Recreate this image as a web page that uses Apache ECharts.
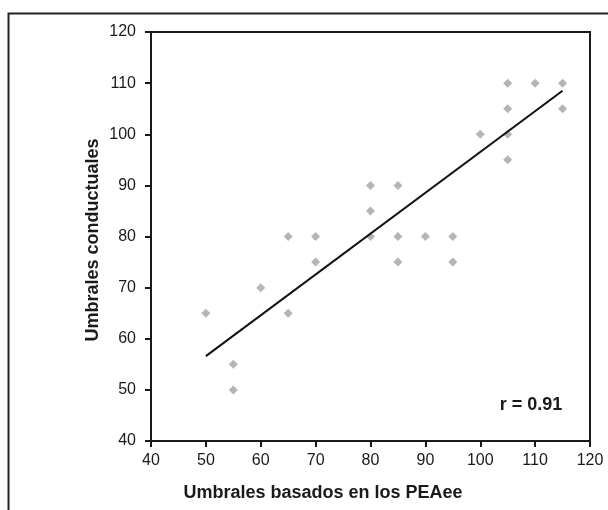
<!DOCTYPE html>
<html>
<head>
<meta charset="utf-8">
<script src="https://cdn.jsdelivr.net/npm/echarts@6/dist/echarts.min.js"></script>
<style>
html,body{margin:0;padding:0;background:#fff;}
#chart{width:608px;height:510px;}
</style>
</head>
<body>
<div id="chart"></div>
<script>
// Data
const peaX = [50, 55, 55, 60, 65, 65, 70, 70, 80, 80, 80, 85, 85, 85, 90, 95, 95, 100, 105, 105, 105, 105, 110, 115, 115];
const condY = [65, 55, 50, 70, 80, 65, 80, 75, 90, 85, 80, 90, 80, 75, 80, 80, 75, 100, 110, 105, 100, 95, 110, 110, 105];
const trendX = [50, 115];
const trendY = [56.6, 108.5];
const axisTicks = [40, 50, 60, 70, 80, 90, 100, 110, 120];
const xTitle = 'Umbrales basados en los PEAee';
const yTitle = 'Umbrales conductuales';
const rLabel = 'r = 0.91';

const points = peaX.map((x, i) => [x, condY[i]]);
const trend = trendX.map((x, i) => [x, trendY[i]]);

const chart = echarts.init(document.getElementById('chart'), null, {renderer: 'canvas'});
const font = 'Liberation Sans, Arial, sans-serif';
const axisCommon = {
  type: 'value',
  min: axisTicks[0],
  max: axisTicks[axisTicks.length - 1],
  interval: 10,
  splitLine: {show: false},
  axisLine: {show: true, lineStyle: {color: '#1a1a1a', width: 2}},
  axisTick: {show: true, inside: false, length: 6, lineStyle: {color: '#1a1a1a', width: 2}}
};
chart.setOption({
  animation: false,
  backgroundColor: '#ffffff',
  grid: {left: 151, right: 18, top: 32, bottom: 69, show: true, borderColor: '#1a1a1a', borderWidth: 2, backgroundColor: 'transparent'},
  xAxis: Object.assign({}, axisCommon, {
    axisLabel: {color: '#1a1a1a', fontSize: 16, fontFamily: font, margin: 12}
  }),
  yAxis: Object.assign({}, axisCommon, {
    axisLabel: {color: '#1a1a1a', fontSize: 16, fontFamily: font, margin: 15}
  }),
  graphic: [
    {type: 'rect', left: 6, top: 11, shape: {width: 700, height: 600}, style: {fill: 'none', stroke: '#222', lineWidth: 2}, z: 100},
    {type: 'text', x: 323, y: 493, style: {text: xTitle, fill: '#1a1a1a', font: 'bold 18px ' + font, textAlign: 'center', textVerticalAlign: 'middle'}},
    {type: 'text', x: 93, y: 240, rotation: Math.PI / 2, style: {text: yTitle, fill: '#1a1a1a', font: 'bold 18px ' + font, textAlign: 'center', textVerticalAlign: 'middle'}},
    {type: 'text', x: 531, y: 405, style: {text: rLabel, fill: '#1a1a1a', font: 'bold 18px ' + font, textAlign: 'center', textVerticalAlign: 'middle'}}
  ],
  series: [
    {type: 'scatter', data: points, symbol: 'diamond', symbolSize: 9, itemStyle: {color: '#a2a2a2'}, z: 3},
    {type: 'line', data: trend, symbol: 'none', lineStyle: {color: '#111', width: 2}, z: 4}
  ]
});
</script>
</body>
</html>
